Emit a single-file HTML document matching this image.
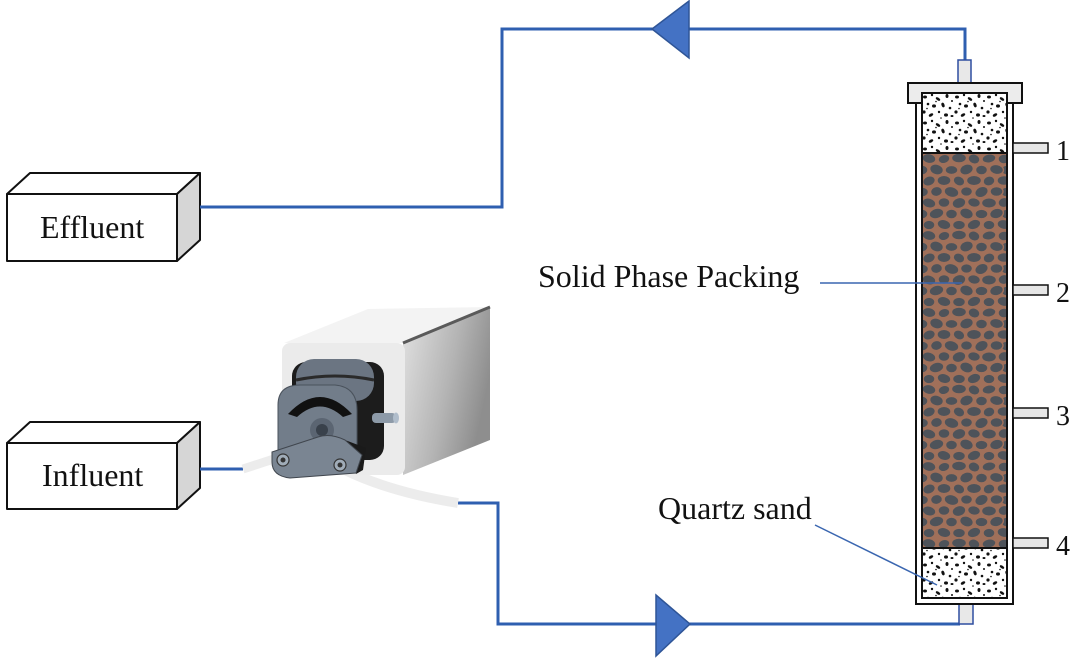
<!DOCTYPE html>
<html><head><meta charset="utf-8"><style>
html,body{margin:0;padding:0;background:#fff;}
svg{display:block;}
text{font-family:"Liberation Serif","Times New Roman",serif;fill:#111;}
</style></head><body>
<svg width="1073" height="659" viewBox="0 0 1073 659" xmlns="http://www.w3.org/2000/svg">
<defs>
  <pattern id="stones" patternUnits="userSpaceOnUse" x="922" y="153" width="85" height="77">
    <rect width="85" height="77" fill="#a0705a"/>
    <g fill="#4e535a" stroke="#a0705a" stroke-width="1.4">
      <ellipse cx="7" cy="5.5" rx="7" ry="5" transform="rotate(10 7 5.5)"/>
      <ellipse cx="22" cy="6" rx="6" ry="4.6" transform="rotate(-15 22 6)"/>
      <ellipse cx="37" cy="5" rx="7.5" ry="5"/>
      <ellipse cx="52" cy="6" rx="6" ry="5" transform="rotate(20 52 6)"/>
      <ellipse cx="67" cy="5.5" rx="7" ry="4.6" transform="rotate(-10 67 5.5)"/>
      <ellipse cx="82" cy="6" rx="6" ry="5"/>
      <ellipse cx="0" cy="17" rx="6" ry="5"/>
      <ellipse cx="85" cy="17" rx="6" ry="5"/>
      <ellipse cx="14.5" cy="16.5" rx="7" ry="5.4" transform="rotate(15 14.5 16.5)"/>
      <ellipse cx="29.5" cy="17" rx="6.5" ry="4.6"/>
      <ellipse cx="44.5" cy="16.5" rx="7" ry="5.4" transform="rotate(-20 44.5 16.5)"/>
      <ellipse cx="59.5" cy="17" rx="6" ry="5"/>
      <ellipse cx="74.5" cy="16.5" rx="7" ry="5" transform="rotate(10 74.5 16.5)"/>
      <ellipse cx="7" cy="28" rx="6.5" ry="5" transform="rotate(-20 7 28)"/>
      <ellipse cx="22" cy="27.5" rx="7" ry="5.2"/>
      <ellipse cx="37" cy="28" rx="6" ry="4.8" transform="rotate(25 37 28)"/>
      <ellipse cx="52" cy="27.5" rx="7.5" ry="5.2"/>
      <ellipse cx="67" cy="28" rx="6" ry="5" transform="rotate(-15 67 28)"/>
      <ellipse cx="82" cy="27.5" rx="7" ry="5"/>
      <ellipse cx="0" cy="39" rx="6.5" ry="5"/>
      <ellipse cx="85" cy="39" rx="6.5" ry="5"/>
      <ellipse cx="14.5" cy="38.5" rx="6" ry="5" transform="rotate(-10 14.5 38.5)"/>
      <ellipse cx="29.5" cy="39" rx="7.5" ry="5.4" transform="rotate(15 29.5 39)"/>
      <ellipse cx="44.5" cy="38.5" rx="6" ry="4.8"/>
      <ellipse cx="59.5" cy="39" rx="7" ry="5.4" transform="rotate(-25 59.5 39)"/>
      <ellipse cx="74.5" cy="38.5" rx="6.5" ry="5"/>
      <ellipse cx="7" cy="50" rx="7" ry="5" transform="rotate(15 7 50)"/>
      <ellipse cx="22" cy="49.5" rx="6" ry="5"/>
      <ellipse cx="37" cy="50" rx="7" ry="5.4" transform="rotate(-15 37 50)"/>
      <ellipse cx="52" cy="49.5" rx="6.5" ry="4.8" transform="rotate(10 52 49.5)"/>
      <ellipse cx="67" cy="50" rx="7.5" ry="5.2"/>
      <ellipse cx="82" cy="49.5" rx="6" ry="5" transform="rotate(-10 82 49.5)"/>
      <ellipse cx="0" cy="61" rx="6" ry="5"/>
      <ellipse cx="85" cy="61" rx="6" ry="5"/>
      <ellipse cx="14.5" cy="60.5" rx="7.5" ry="5.2" transform="rotate(-15 14.5 60.5)"/>
      <ellipse cx="29.5" cy="61" rx="6" ry="5"/>
      <ellipse cx="44.5" cy="60.5" rx="7" ry="5.4" transform="rotate(20 44.5 60.5)"/>
      <ellipse cx="59.5" cy="61" rx="6.5" ry="4.8"/>
      <ellipse cx="74.5" cy="60.5" rx="7" ry="5.2" transform="rotate(-15 74.5 60.5)"/>
      <ellipse cx="7" cy="72" rx="6" ry="4.8"/>
      <ellipse cx="22" cy="71.5" rx="7" ry="5" transform="rotate(15 22 71.5)"/>
      <ellipse cx="37" cy="72" rx="6.5" ry="4.8"/>
      <ellipse cx="52" cy="71.5" rx="7" ry="5" transform="rotate(-20 52 71.5)"/>
      <ellipse cx="67" cy="72" rx="6" ry="4.8"/>
      <ellipse cx="82" cy="71.5" rx="7" ry="5" transform="rotate(10 82 71.5)"/>
    </g>
  </pattern>
  <pattern id="sand" patternUnits="userSpaceOnUse" x="922" y="93" width="32" height="26">
    <rect width="32" height="26" fill="#fff"/>
    <g fill="#111">
      <ellipse cx="3" cy="4" rx="2" ry="1.5"/>
      <ellipse cx="10" cy="2" rx="1.2" ry="1.2"/>
      <ellipse cx="16" cy="6" rx="2.5" ry="1.3" transform="rotate(35 16 6)"/>
      <ellipse cx="25" cy="3" rx="1.5" ry="2"/>
      <ellipse cx="6" cy="11" rx="1.3" ry="1.3"/>
      <ellipse cx="12" cy="13" rx="2" ry="1.6"/>
      <ellipse cx="21" cy="12" rx="1.5" ry="2.4" transform="rotate(-20 21 12)"/>
      <ellipse cx="28" cy="15" rx="1.3" ry="1.3"/>
      <ellipse cx="2" cy="19" rx="1.6" ry="1.6"/>
      <ellipse cx="9" cy="22" rx="2.4" ry="1.4" transform="rotate(-30 9 22)"/>
      <ellipse cx="17" cy="19" rx="1.2" ry="1.2"/>
      <ellipse cx="24" cy="22" rx="2" ry="1.6"/>
      <ellipse cx="14" cy="8.5" rx="0.8" ry="0.8"/>
      <ellipse cx="30" cy="8" rx="1" ry="1"/>
      <ellipse cx="30" cy="23" rx="1.5" ry="1"/>
      <ellipse cx="5" cy="15.5" rx="0.8" ry="0.8"/>
      <ellipse cx="19" cy="25" rx="0.8" ry="0.8"/>
    </g>
  </pattern>
  <linearGradient id="side" x1="0" y1="0" x2="1" y2="0.4">
    <stop offset="0" stop-color="#e2e2e2"/>
    <stop offset="0.6" stop-color="#b4b4b4"/>
    <stop offset="1" stop-color="#8e8e8e"/>
  </linearGradient>
</defs>

<!-- Effluent box -->
<g stroke="#111" stroke-width="2" stroke-linejoin="round">
  <polygon points="7,194 30,173 200,173 177,194" fill="#fff"/>
  <polygon points="177,194 200,173 200,240 177,261" fill="#d6d6d6"/>
  <rect x="7" y="194" width="170" height="67" fill="#fff"/>
</g>
<text x="40" y="238" font-size="32">Effluent</text>

<!-- Influent box -->
<g stroke="#111" stroke-width="2" stroke-linejoin="round">
  <polygon points="7,443 30,422 200,422 177,443" fill="#fff"/>
  <polygon points="177,443 200,422 200,488 177,509" fill="#d6d6d6"/>
  <rect x="7" y="443" width="170" height="66" fill="#fff"/>
</g>
<text x="42" y="486" font-size="32">Influent</text>

<!-- pipes -->
<g fill="none" stroke="#2f5fb0" stroke-width="3">
  <polyline points="200,207 502,207 502,29 965,29 965,60"/>
  <polyline points="200,469 243,469"/>
  <polyline points="458,503 498,503 498,624 960,624"/>
</g>
<polygon points="652,29 689,1 689,58" fill="#4472c4" stroke="#2f5597" stroke-width="1.5"/>
<polygon points="656,595 656,656 690,624" fill="#4472c4" stroke="#2f5597" stroke-width="1.5"/>

<!-- tubes of pump -->
<path d="M243 469 L283 456" stroke="#ececec" stroke-width="9" fill="none"/>
<path d="M345 470 Q390 492 458 503" stroke="#ececec" stroke-width="10" fill="none"/>

<!-- pump housing -->
<polygon points="284,343 368,309 490,307 405,343" fill="#f3f3f3"/>
<polygon points="403,343 490,307 490,440 403,475" fill="url(#side)"/>
<line x1="403" y1="343" x2="490" y2="307" stroke="#5a5a5a" stroke-width="3"/>
<rect x="282" y="343" width="123" height="132" rx="8" fill="#ebebeb"/>

<!-- pump head -->
<rect x="292" y="362" width="92" height="98" rx="14" fill="#1c1c1c"/>
<rect x="296" y="359" width="78" height="42" rx="18" fill="#6b7582"/>
<path d="M296 380 Q335 372 374 380" stroke="#2a2a2a" stroke-width="3" fill="none"/>
<path d="M278 405 Q278 385 300 385 L335 385 Q357 387 357 410 L357 445 L278 450 Z" fill="#727d8a" stroke="#4a525c" stroke-width="1"/>
<path d="M288 414 Q320 380 352 414 L343 417 Q320 396 297 417 Z" fill="#111"/>
<circle cx="322" cy="430" r="12" fill="#5b6572"/>
<circle cx="322" cy="430" r="6" fill="#39414b"/>
<path d="M345 440 L366 448 L363 470 L356 474 Z" fill="#1a1a1a"/>
<path d="M272 452 L318 437 Q330 433 345 440 L362 455 L356 473 L290 478 Q272 476 272 462 Z" fill="#7a8592" stroke="#40464e" stroke-width="1"/>
<circle cx="283" cy="460" r="6" fill="#a0acb8" stroke="#333" stroke-width="1.2"/>
<circle cx="283" cy="460" r="2.5" fill="#333"/>
<circle cx="340" cy="465" r="6" fill="#a0acb8" stroke="#333" stroke-width="1.2"/>
<circle cx="340" cy="465" r="2.5" fill="#333"/>
<rect x="372" y="413" width="24" height="10" rx="4" fill="#8d9aa8"/>
<ellipse cx="396" cy="418" rx="3" ry="5.5" fill="#b0bdcb"/>

<!-- column -->
<rect x="958" y="60" width="13" height="23" fill="#e8e8e8" stroke="#2f4ea0" stroke-width="1.5"/>
<rect x="959" y="604" width="14" height="20" fill="#e8e8e8" stroke="#2f4ea0" stroke-width="1.5"/>
<rect x="916" y="100" width="97" height="504" fill="#fff" stroke="#111" stroke-width="2"/>
<rect x="908" y="83" width="114" height="20" fill="#ececec" stroke="#111" stroke-width="2"/>
<rect x="922" y="93" width="85" height="505" fill="#fff" stroke="#111" stroke-width="2"/>
<rect x="923" y="94" width="83" height="59" fill="url(#sand)"/>
<rect x="923" y="153" width="83" height="395" fill="url(#stones)"/>
<rect x="923" y="548" width="83" height="49" fill="url(#sand)"/>
<line x1="922" y1="153" x2="1007" y2="153" stroke="#111" stroke-width="2"/>
<line x1="922" y1="548" x2="1007" y2="548" stroke="#111" stroke-width="2"/>
<rect x="922" y="93" width="85" height="505" fill="none" stroke="#111" stroke-width="2"/>

<!-- ports -->
<g fill="#e6e6e6" stroke="#111" stroke-width="1.5">
  <rect x="1013" y="143" width="35" height="10"/>
  <rect x="1013" y="285" width="35" height="10"/>
  <rect x="1013" y="408" width="35" height="10"/>
  <rect x="1013" y="538" width="35" height="10"/>
</g>
<g font-size="28">
  <text x="1056" y="160">1</text>
  <text x="1056" y="302">2</text>
  <text x="1056" y="425">3</text>
  <text x="1056" y="555">4</text>
</g>

<!-- labels -->
<text x="538" y="287" font-size="32">Solid Phase Packing</text>
<line x1="820" y1="283" x2="962" y2="283" stroke="#3a66b0" stroke-width="1.5"/>
<text x="658" y="519" font-size="32">Quartz sand</text>
<line x1="815" y1="525" x2="937" y2="585" stroke="#3a66b0" stroke-width="1.5"/>
</svg>
</body></html>
